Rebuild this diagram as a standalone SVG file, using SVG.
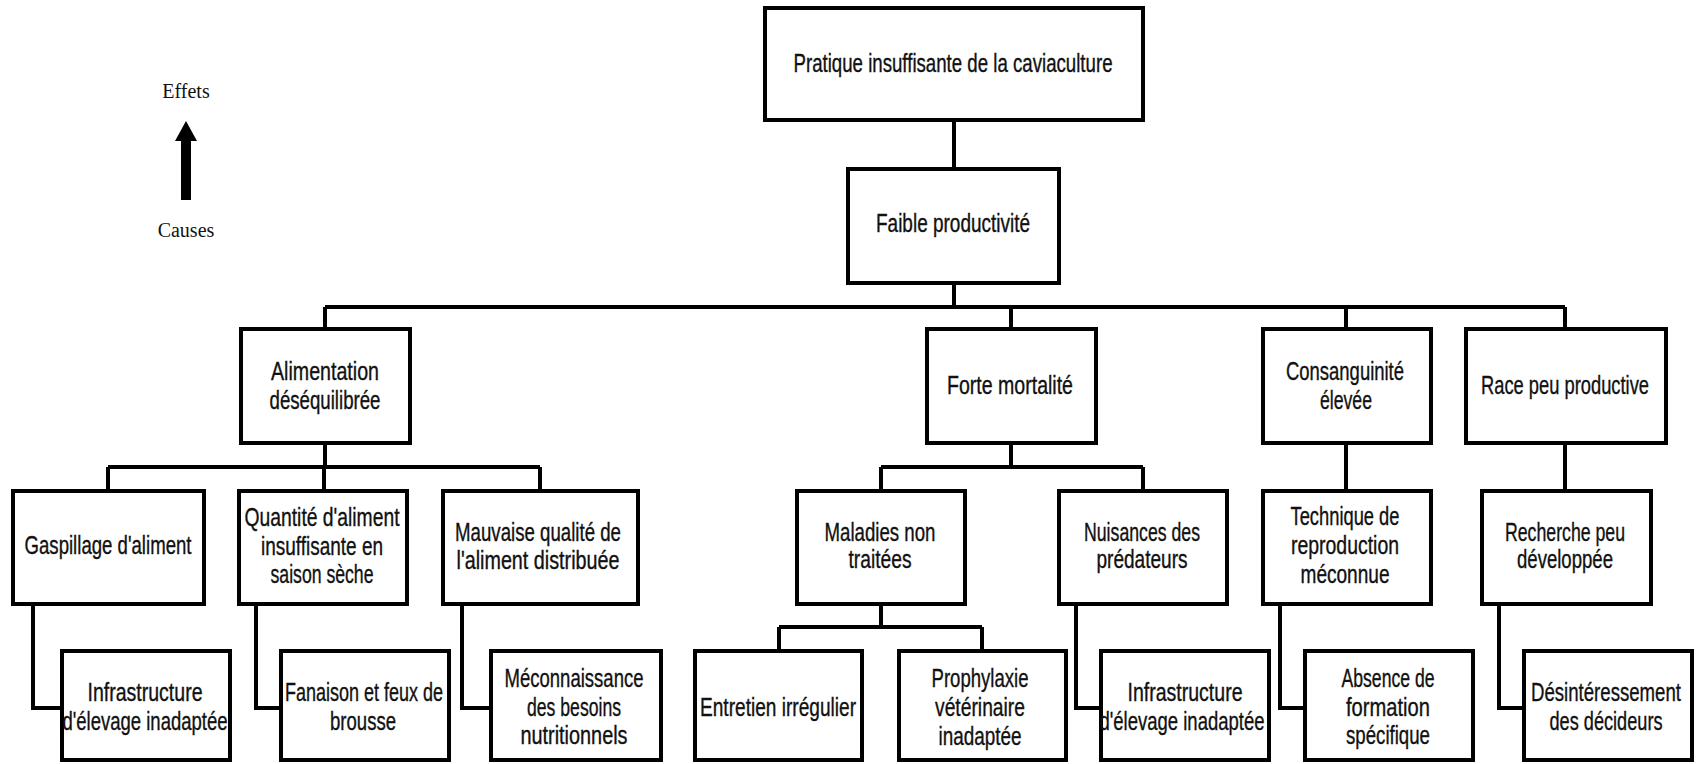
<svg xmlns="http://www.w3.org/2000/svg" width="1697" height="764" viewBox="0 0 1697 764">
  <style>
    .box { fill: #ffffff; stroke: #000000; stroke-width: 4; }
    .wire { fill: none; stroke: #000000; stroke-width: 4; stroke-linejoin: miter; }
    .lbl { font-family: "Liberation Sans Narrow", "Liberation Sans", Arial, sans-serif; font-size: 25px; fill: #111111; stroke: #111111; stroke-width: 0.35; text-anchor: middle; }
    .legend { font-family: "Liberation Serif", "Times New Roman", serif; font-size: 20px; fill: #111111; text-anchor: middle; }
  </style>
  <rect x="0" y="0" width="1697" height="764" fill="#ffffff"/>

  <!-- legend: causes lead up to effects -->
  <g id="legend">
    <text class="legend" x="186" y="98">Effets</text>
    <polygon points="186,121 197,141 191,141 191,200 181,200 181,141 175,141" fill="#000000"/>
    <text class="legend" x="186" y="237">Causes</text>
  </g>

  <!-- connectors -->
  <g id="connectors" class="wire">
    <path d="M954,120 V169"/>
    <path d="M954,283 V307"/>
    <path d="M325,307 H1565"/>
    <path d="M325,307 V329 M1011,307 V329 M1346,307 V329 M1565,307 V329"/>
    <!-- Alimentation branch -->
    <path d="M325,443 V467 M108,467 H540 M108,467 V491 M324,467 V491 M540,467 V491"/>
    <!-- Forte mortalité branch -->
    <path d="M1011,443 V467 M881,467 H1143 M881,467 V491 M1143,467 V491"/>
    <path d="M1346,443 V491"/>
    <path d="M1565,443 V491"/>
    <!-- Maladies branch -->
    <path d="M881,604 V627 M779,627 H982 M779,627 V651 M982,627 V651"/>
    <!-- elbows to bottom row -->
    <path d="M33,604 V708 H62"/>
    <path d="M256,604 V708 H281"/>
    <path d="M462,604 V708 H491"/>
    <path d="M1076,604 V708 H1101"/>
    <path d="M1280,604 V708 H1305"/>
    <path d="M1499,604 V708 H1524"/>
  </g>

  <g id="n-pratique">
    <rect class="box" x="765" y="8" width="378" height="112"/>
    <text class="lbl" x="953" y="72" textLength="319" lengthAdjust="spacingAndGlyphs">Pratique insuffisante de la caviaculture</text>
  </g>
  <g id="n-faible">
    <rect class="box" x="848" y="169" width="211" height="114"/>
    <text class="lbl" x="953" y="232" textLength="154" lengthAdjust="spacingAndGlyphs">Faible productivité</text>
  </g>

  <g id="n-alimentation">
    <rect class="box" x="241" y="329" width="169" height="114"/>
    <text class="lbl" x="325" y="380" textLength="108" lengthAdjust="spacingAndGlyphs">Alimentation</text>
    <text class="lbl" x="325" y="409" textLength="111" lengthAdjust="spacingAndGlyphs">déséquilibrée</text>
  </g>
  <g id="n-forte">
    <rect class="box" x="927" y="329" width="169" height="114"/>
    <text class="lbl" x="1010" y="394" textLength="126" lengthAdjust="spacingAndGlyphs">Forte mortalité</text>
  </g>
  <g id="n-consanguinite">
    <rect class="box" x="1263" y="329" width="168" height="114"/>
    <text class="lbl" x="1345" y="380" textLength="118" lengthAdjust="spacingAndGlyphs">Consanguinité</text>
    <text class="lbl" x="1346" y="409" textLength="52" lengthAdjust="spacingAndGlyphs">élevée</text>
  </g>
  <g id="n-race">
    <rect class="box" x="1466" y="329" width="200" height="114"/>
    <text class="lbl" x="1565" y="394" textLength="168" lengthAdjust="spacingAndGlyphs">Race peu productive</text>
  </g>

  <g id="n-gaspillage">
    <rect class="box" x="13" y="491" width="191" height="113"/>
    <text class="lbl" x="108" y="554" textLength="167" lengthAdjust="spacingAndGlyphs">Gaspillage d'aliment</text>
  </g>
  <g id="n-quantite">
    <rect class="box" x="239" y="491" width="168" height="113"/>
    <text class="lbl" x="322" y="526" textLength="155" lengthAdjust="spacingAndGlyphs">Quantité d'aliment</text>
    <text class="lbl" x="322" y="555" textLength="122" lengthAdjust="spacingAndGlyphs">insuffisante en</text>
    <text class="lbl" x="322" y="583" textLength="103" lengthAdjust="spacingAndGlyphs">saison sèche</text>
  </g>
  <g id="n-mauvaise">
    <rect class="box" x="443" y="491" width="195" height="113"/>
    <text class="lbl" x="538" y="541" textLength="166" lengthAdjust="spacingAndGlyphs">Mauvaise qualité de</text>
    <text class="lbl" x="538" y="569" textLength="163" lengthAdjust="spacingAndGlyphs">l'aliment distribuée</text>
  </g>
  <g id="n-maladies">
    <rect class="box" x="797" y="491" width="168" height="113"/>
    <text class="lbl" x="880" y="541" textLength="111" lengthAdjust="spacingAndGlyphs">Maladies non</text>
    <text class="lbl" x="880" y="568" textLength="63" lengthAdjust="spacingAndGlyphs">traitées</text>
  </g>
  <g id="n-nuisances">
    <rect class="box" x="1059" y="491" width="168" height="113"/>
    <text class="lbl" x="1142" y="541" textLength="116" lengthAdjust="spacingAndGlyphs">Nuisances des</text>
    <text class="lbl" x="1142" y="568" textLength="91" lengthAdjust="spacingAndGlyphs">prédateurs</text>
  </g>
  <g id="n-technique">
    <rect class="box" x="1263" y="491" width="168" height="113"/>
    <text class="lbl" x="1345" y="525" textLength="109" lengthAdjust="spacingAndGlyphs">Technique de</text>
    <text class="lbl" x="1345" y="554" textLength="108" lengthAdjust="spacingAndGlyphs">reproduction</text>
    <text class="lbl" x="1345" y="583" textLength="89" lengthAdjust="spacingAndGlyphs">méconnue</text>
  </g>
  <g id="n-recherche">
    <rect class="box" x="1482" y="491" width="169" height="113"/>
    <text class="lbl" x="1565" y="541" textLength="120" lengthAdjust="spacingAndGlyphs">Recherche peu</text>
    <text class="lbl" x="1565" y="568" textLength="96" lengthAdjust="spacingAndGlyphs">développée</text>
  </g>

  <g id="n-infrastructure-1">
    <rect class="box" x="62" y="651" width="168" height="109"/>
    <text class="lbl" x="145" y="701" textLength="115" lengthAdjust="spacingAndGlyphs">Infrastructure</text>
    <text class="lbl" x="145" y="730" textLength="165" lengthAdjust="spacingAndGlyphs">d'élevage inadaptée</text>
  </g>
  <g id="n-fanaison">
    <rect class="box" x="281" y="651" width="168" height="109"/>
    <text class="lbl" x="364" y="701" textLength="158" lengthAdjust="spacingAndGlyphs">Fanaison et feux de</text>
    <text class="lbl" x="363" y="730" textLength="66" lengthAdjust="spacingAndGlyphs">brousse</text>
  </g>
  <g id="n-meconnaissance">
    <rect class="box" x="491" y="651" width="170" height="109"/>
    <text class="lbl" x="574" y="687" textLength="139" lengthAdjust="spacingAndGlyphs">Méconnaissance</text>
    <text class="lbl" x="574" y="716" textLength="94" lengthAdjust="spacingAndGlyphs">des besoins</text>
    <text class="lbl" x="574" y="744" textLength="107" lengthAdjust="spacingAndGlyphs">nutritionnels</text>
  </g>
  <g id="n-entretien">
    <rect class="box" x="695" y="651" width="167" height="109"/>
    <text class="lbl" x="778" y="716" textLength="156" lengthAdjust="spacingAndGlyphs">Entretien irrégulier</text>
  </g>
  <g id="n-prophylaxie">
    <rect class="box" x="899" y="651" width="167" height="109"/>
    <text class="lbl" x="980" y="687" textLength="97" lengthAdjust="spacingAndGlyphs">Prophylaxie</text>
    <text class="lbl" x="980" y="716" textLength="90" lengthAdjust="spacingAndGlyphs">vétérinaire</text>
    <text class="lbl" x="980" y="745" textLength="83" lengthAdjust="spacingAndGlyphs">inadaptée</text>
  </g>
  <g id="n-infrastructure-2">
    <rect class="box" x="1101" y="651" width="168" height="109"/>
    <text class="lbl" x="1185" y="701" textLength="115" lengthAdjust="spacingAndGlyphs">Infrastructure</text>
    <text class="lbl" x="1182" y="730" textLength="165" lengthAdjust="spacingAndGlyphs">d'élevage inadaptée</text>
  </g>
  <g id="n-absence">
    <rect class="box" x="1305" y="651" width="168" height="109"/>
    <text class="lbl" x="1388" y="687" textLength="93" lengthAdjust="spacingAndGlyphs">Absence de</text>
    <text class="lbl" x="1388" y="716" textLength="84" lengthAdjust="spacingAndGlyphs">formation</text>
    <text class="lbl" x="1388" y="744" textLength="84" lengthAdjust="spacingAndGlyphs">spécifique</text>
  </g>
  <g id="n-desinteressement">
    <rect class="box" x="1524" y="651" width="168" height="109"/>
    <text class="lbl" x="1606" y="701" textLength="150" lengthAdjust="spacingAndGlyphs">Désintéressement</text>
    <text class="lbl" x="1606" y="730" textLength="113" lengthAdjust="spacingAndGlyphs">des décideurs</text>
  </g>
</svg>
